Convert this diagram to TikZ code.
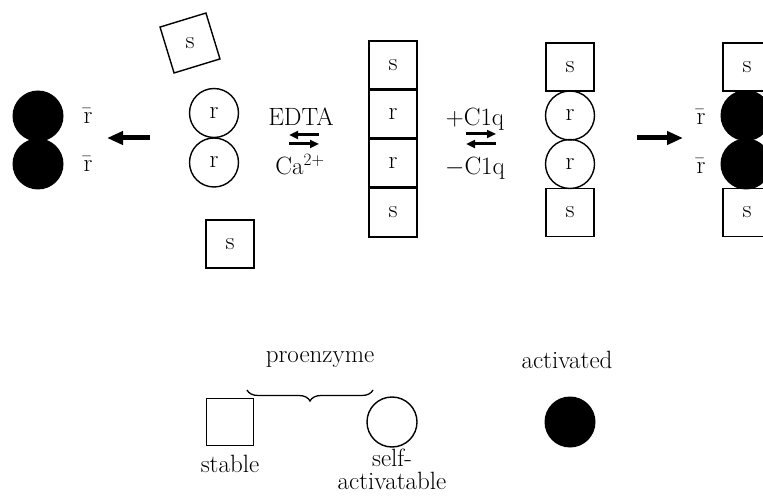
\documentclass[tikz,border=0pt]{standalone}
\usetikzlibrary{arrows.meta,decorations.pathreplacing}
\begin{document}
\begin{tikzpicture}[x=1pt,y=-1pt,
  every node/.style={font=\fontsize{25}{28}\selectfont},
  sq/.style={draw,line width=1.4pt,minimum size=48pt,inner sep=0pt,outer sep=0pt},
  rc/.style={draw,circle,line width=1.4pt,minimum size=49pt,inner sep=0pt,outer sep=0pt},
  bc/.style={fill=black,circle,minimum size=51pt,inner sep=0pt,outer sep=0pt},
  lbl/.style={inner sep=0pt},
  bigarrow/.style={line width=5pt,-{Triangle[length=16pt,width=13pt]}},
  eqarrow/.style={line width=3pt,-{Triangle[length=9pt,width=8pt]}}]
\useasboundingbox (0,0) rectangle (763,497);
\clip (0,0) rectangle (763,497);
% left activated dimer
\node[bc] (a1) at (38,116) {};
\node[bc] (a2) at (38,164) {};
\node[lbl] (la1) at (88,116) {\={r}};
\node[lbl] (la2) at (88,164) {\={r}};
\coordinate (lf) at (150,138);
\coordinate (lt) at (107,138);
\draw[bigarrow] (lf) -- (lt);
% dissociated
\node[sq,rotate=17] (s1) at (190,43) {};
\node (s1t) at (190,43) {s};
\node[rc] (r1) at (214,113) {r};
\node[rc] (r2) at (214,162.5) {r};
\node[sq] (s2) at (230,244) {s};
% EDTA arrows
\node[lbl] (edta) at (301,117) {EDTA};
\node[lbl] (ca) at (300,165) {Ca$^{2+}$};
\coordinate (e1a) at (319,135);
\coordinate (e1b) at (289,135);
\coordinate (e2a) at (289,144);
\coordinate (e2b) at (319,144);
\draw[eqarrow] (e1a) -- (e1b);
\draw[eqarrow] (e2a) -- (e2b);
% middle column
\node[sq,minimum height=49pt] (m1) at (393,65.5) {s};
\node[sq,minimum height=49pt] (m2) at (393,114.5) {r};
\node[sq,minimum height=49pt] (m3) at (393,163.5) {r};
\node[sq,minimum height=49pt] (m4) at (393,212.5) {s};
\draw[line width=3pt] (m1.south west) -- (m1.south east);
\draw[line width=3pt] (m2.south west) -- (m2.south east);
\draw[line width=3pt] (m3.south west) -- (m3.south east);
% C1q arrows
\node[lbl] (pc) at (475,119) {$+$C1q};
\node[lbl] (mc) at (475,168) {$-$C1q};
\coordinate (c1a) at (466,134);
\coordinate (c1b) at (496,134);
\coordinate (c2a) at (496,144);
\coordinate (c2b) at (466,144);
\draw[eqarrow] (c1a) -- (c1b);
\draw[eqarrow] (c2a) -- (c2b);
% C1 complex proenzyme
\node[sq] (p1) at (570,67) {s};
\node[rc] (p2) at (570,115.5) {r};
\node[rc] (p3) at (570,164) {r};
\node[sq] (p4) at (570,212.5) {s};
% activation arrow
\coordinate (rf) at (637,138);
\coordinate (rt) at (683,138);
\draw[bigarrow] (rf) -- (rt);
% activated complex
\node[lbl] (lb1) at (701,117) {\={r}};
\node[lbl] (lb2) at (701,166) {\={r}};
\node[sq] (q1) at (747,67) {s};
\node[bc] (q2) at (746,115.5) {};
\node[bc] (q3) at (746,164) {};
\node[sq] (q4) at (747,212.5) {s};
% legend
\node[sq,minimum size=47pt] (ls) at (230,422) {};
\node[rc,minimum size=50pt] (lc) at (392,422) {};
\node[bc] (lb) at (570,422) {};
\node[lbl,anchor=north] (ts) at (230,455) {stable};
\node[lbl,anchor=north,align=center] (tc) at (392,449) {self-\\[-5pt]activatable};
\node[lbl] (tp) at (320,360) {proenzyme};
\node[lbl] (ta) at (567,360) {activated};
\coordinate (bl) at (247,390);
\coordinate (br) at (373,390);
\draw[line width=1.3pt,decorate,decoration={brace,amplitude=11pt}] (br) -- (bl);
\end{tikzpicture}
\end{document}
